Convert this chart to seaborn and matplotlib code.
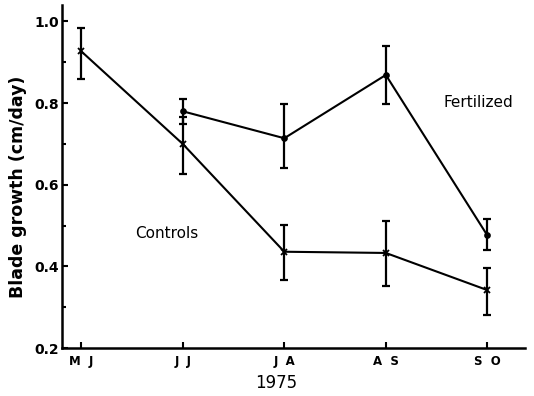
import numpy as np
import pandas as pd
import matplotlib
matplotlib.use("Agg")
import matplotlib.pyplot as plt
import seaborn as sns
from matplotlib.ticker import MultipleLocator

# data
periods = ["M J", "J J", "J A", "A S", "S O"]
controls = [0.927, 0.700, 0.436, 0.433, 0.342]
controls_lo = [0.858, 0.627, 0.366, 0.352, 0.281]
controls_hi = [0.984, 0.766, 0.501, 0.511, 0.397]
fert_periods = ["J J", "J A", "A S", "S O"]
fertilized = [0.780, 0.714, 0.869, 0.476]
fert_lo = [0.748, 0.640, 0.797, 0.440]
fert_hi = [0.809, 0.797, 0.939, 0.515]

pos = {p: i for i, p in enumerate(periods)}

df = pd.concat([
    pd.DataFrame({"period": [pos[p] for p in periods], "growth": controls,
                  "lo": controls_lo, "hi": controls_hi, "group": "Controls"}),
    pd.DataFrame({"period": [pos[p] for p in fert_periods], "growth": fertilized,
                  "lo": fert_lo, "hi": fert_hi, "group": "Fertilized"}),
], ignore_index=True)

sns.set_style("ticks")
plt.rcParams["font.family"] = ["DejaVu Sans"]
plt.rcParams.update({"text.color": "black", "axes.labelcolor": "black",
                     "xtick.color": "black", "ytick.color": "black",
                     "axes.edgecolor": "black"})

fig = plt.figure(figsize=(5.34, 3.96), dpi=100)
ax = fig.add_axes([0.116, 0.121, 0.867, 0.866])

markers = {"Controls": "x", "Fertilized": "o"}
for g, sub in df.groupby("group"):
    sns.lineplot(data=sub, x="period", y="growth", color="black",
                 marker=markers[g], markersize=4 if g == "Controls" else 3.5,
                 markeredgewidth=1.3, markeredgecolor="black",
                 linewidth=1.5, legend=False, ax=ax)
    ax.errorbar(sub["period"], sub["growth"],
                yerr=[sub["growth"] - sub["lo"], sub["hi"] - sub["growth"]],
                fmt="none", ecolor="black", elinewidth=1.6, capsize=3, capthick=1.6)

ax.set_xlim(-0.19, 4.37)
ax.set_ylim(0.2, 1.04)
ax.set_xticks(range(len(periods)))
ax.set_xticklabels([p.replace(" ", "  ") for p in periods], fontweight="bold", fontsize=8.5)
ax.yaxis.set_minor_locator(MultipleLocator(0.1))
ax.set_yticks([0.2, 0.4, 0.6, 0.8, 1.0])
ax.set_yticklabels(["0.2", "0.4", "0.6", "0.8", "1.0"], fontweight="bold", fontsize=10)
ax.tick_params(direction="in", length=4, width=1.5)
ax.tick_params(axis="y", pad=2)
ax.tick_params(axis="x", pad=5)
ax.tick_params(which="minor", direction="in", length=3, width=1.5)
ax.set_xlabel("1975", fontsize=12)
ax.xaxis.set_label_coords(0.462, -0.075)
ax.set_ylabel("Blade growth (cm/day)", fontsize=12.5, fontweight="semibold")
ax.yaxis.set_label_coords(-0.075, 0.47)

for s in ["top", "right"]:
    ax.spines[s].set_visible(False)
for s in ["left", "bottom"]:
    ax.spines[s].set_linewidth(1.8)

ax.text(3.57, 0.79, "Fertilized", fontsize=11)
ax.text(0.53, 0.47, "Controls", fontsize=11)

fig.savefig("out.png", dpi=100)
